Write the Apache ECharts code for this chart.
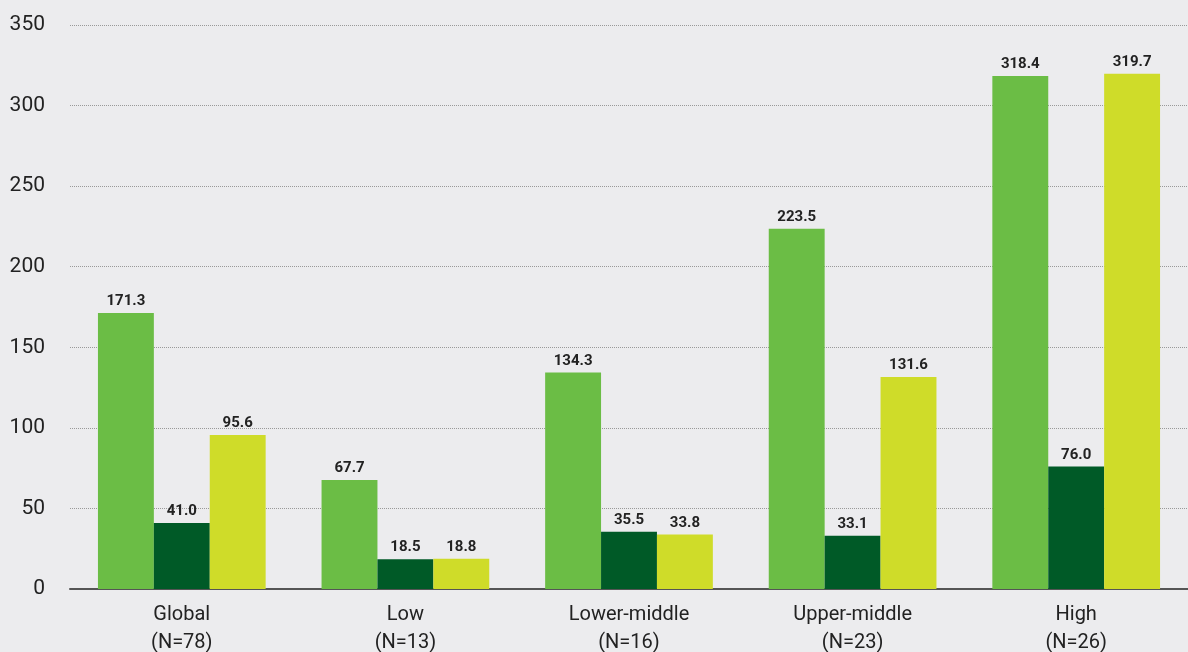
<!DOCTYPE html>
<html>
<head>
<meta charset="utf-8">
<style>
  html, body { margin: 0; padding: 0; background: #ececee; }
  #chart { width: 1188px; height: 652px; }
</style>
<script src="https://cdn.jsdelivr.net/npm/echarts@6/dist/echarts.min.js"></script>
</head>
<body>
<div id="chart"></div>
<script>
  const categories = ['Global\n(N=78)', 'Low\n(N=13)', 'Lower-middle\n(N=16)', 'Upper-middle\n(N=23)', 'High\n(N=26)']
  const seriesA = [171.3, 67.7, 134.3, 223.5, 318.4]
  const seriesB = [41.0, 18.5, 35.5, 33.1, 76.0]
  const seriesC = [95.6, 18.8, 33.8, 131.6, 319.7]
  const colors = ['#6bbd45', '#005a27', '#cfdc29']
  const font = '"Roboto", sans-serif'

  const chart = echarts.init(document.getElementById('chart'))

  const labelStyle = {
    show: true,
    position: 'top',
    distance: 4,
    color: '#222',
    fontFamily: font,
    fontWeight: 'bold',
    fontSize: 15,
    formatter: p => p.value.toFixed(1)
  }

  const option = {
    animation: false,
    backgroundColor: '#ececee',
    grid: { top: 25, right: 0, bottom: 63, left: 70, outerBoundsMode: 'none' },
    xAxis: {
      type: 'category',
      data: categories,
      axisTick: { show: false },
      axisLine: { lineStyle: { color: '#555', width: 2 } },
      axisLabel: {
        color: '#222',
        fontFamily: font,
        fontSize: 20,
        lineHeight: 28,
        margin: 12
      }
    },
    yAxis: {
      type: 'value',
      min: 0,
      max: 350,
      interval: 50,
      axisLine: { show: false },
      axisTick: { show: false },
      axisLabel: {
        color: '#222',
        fontFamily: font,
        fontSize: 21,
        margin: 25
      },
      splitLine: { lineStyle: { color: '#999', type: 'dotted', width: 1 } }
    },
    series: [
      { type: 'bar', data: seriesA, barGap: 0, barCategoryGap: '25%', itemStyle: { color: colors[0] }, label: labelStyle },
      { type: 'bar', data: seriesB, barGap: 0, barCategoryGap: '25%', itemStyle: { color: colors[1] }, label: labelStyle },
      { type: 'bar', data: seriesC, barGap: 0, barCategoryGap: '25%', itemStyle: { color: colors[2] }, label: labelStyle }
    ]
  }
  chart.setOption(option)
</script>
</body>
</html>
